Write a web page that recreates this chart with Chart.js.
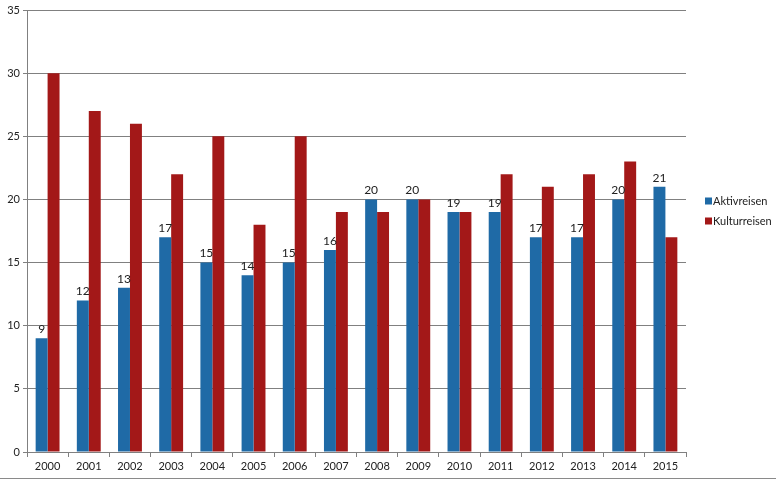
<!DOCTYPE html>
<html>
<head>
<meta charset="utf-8">
<script src="https://cdn.jsdelivr.net/npm/chart.js@4.4.0/dist/chart.umd.min.js"></script>
<style>
html,body{margin:0;padding:0;background:#fff;}
#wrap{position:relative;width:776px;height:480px;}
#bl{position:absolute;left:0;right:0;bottom:1px;height:1px;background:#8a8a8a;}
</style>
</head>
<body>
<div id="wrap"><canvas id="c" width="776" height="480"></canvas><div id="bl"></div></div>
<script>
const categories = ['2000','2001','2002','2003','2004','2005','2006','2007','2008','2009','2010','2011','2012','2013','2014','2015'];
const aktivreisen = [9,12,13,17,15,14,15,16,20,20,19,19,17,17,20,21];
const kulturreisen = [30,27,26,22,25,18,25,19,19,20,19,22,21,22,23,17];
const yTicks = [0,5,10,15,20,25,30,35];

const BLUE = '#1f6aa6';
const RED = '#a31818';
const FONT = 'Lato, "Open Sans", sans-serif';

const labelPlugin = {
  id: 'labels',
  afterDatasetsDraw(chart) {
    const ctx = chart.ctx;
    const meta = chart.getDatasetMeta(0);
    ctx.save();
    ctx.font = '12px ' + FONT;
    ctx.fillStyle = '#222';
    ctx.textAlign = 'center';
    ctx.textBaseline = 'bottom';
    meta.data.forEach((bar, i) => {
      ctx.fillText(String(aktivreisen[i]), bar.x, bar.y - 3);
    });
    ctx.restore();
  }
};

const legendPlugin = {
  id: 'customLegend',
  afterDraw(chart) {
    const ctx = chart.ctx;
    const items = [['Aktivreisen', BLUE], ['Kulturreisen', RED]];
    ctx.save();
    ctx.font = '11px ' + FONT;
    ctx.textBaseline = 'middle';
    ctx.textAlign = 'left';
    items.forEach((it, i) => {
      const y = 201 + i * 20;
      ctx.fillStyle = it[1];
      ctx.fillRect(705, y - 3.5, 7, 7);
      ctx.fillStyle = '#222';
      ctx.fillText(it[0], 713, y);
    });
    ctx.restore();
  }
};

new Chart(document.getElementById('c'), {
  type: 'bar',
  data: {
    labels: categories,
    datasets: [
      { label: 'Aktivreisen', data: aktivreisen, backgroundColor: BLUE },
      { label: 'Kulturreisen', data: kulturreisen, backgroundColor: RED }
    ]
  },
  options: {
    responsive: false,
    animation: false,
    devicePixelRatio: 1,
    layout: { padding: { top: 10, right: 90, left: 0, bottom: 0 } },
    datasets: { bar: { categoryPercentage: 0.58, barPercentage: 1.0 } },
    plugins: { legend: { display: false }, tooltip: { enabled: false } },
    scales: {
      x: {
        offset: true,
        grid: { display: true, drawOnChartArea: false, drawTicks: true, tickLength: 5, color: '#808080', offset: true },
        border: { display: true, color: '#808080' },
        ticks: { color: '#222', font: { size: 11, family: FONT }, padding: 3, maxRotation: 0, autoSkip: false },
        afterFit(s) { s.height = 28; }
      },
      y: {
        min: 0, max: 35,
        afterBuildTicks(s) { s.ticks = yTicks.map(v => ({ value: v })); },
        grid: { color: '#808080', lineWidth: 1, drawTicks: true, tickLength: 4 },
        border: { display: true, color: '#808080' },
        ticks: { color: '#222', font: { size: 11, family: FONT }, padding: 3 },
        afterFit(s) { s.width = 27; }
      }
    }
  },
  plugins: [labelPlugin, legendPlugin]
});
</script>
</body>
</html>
